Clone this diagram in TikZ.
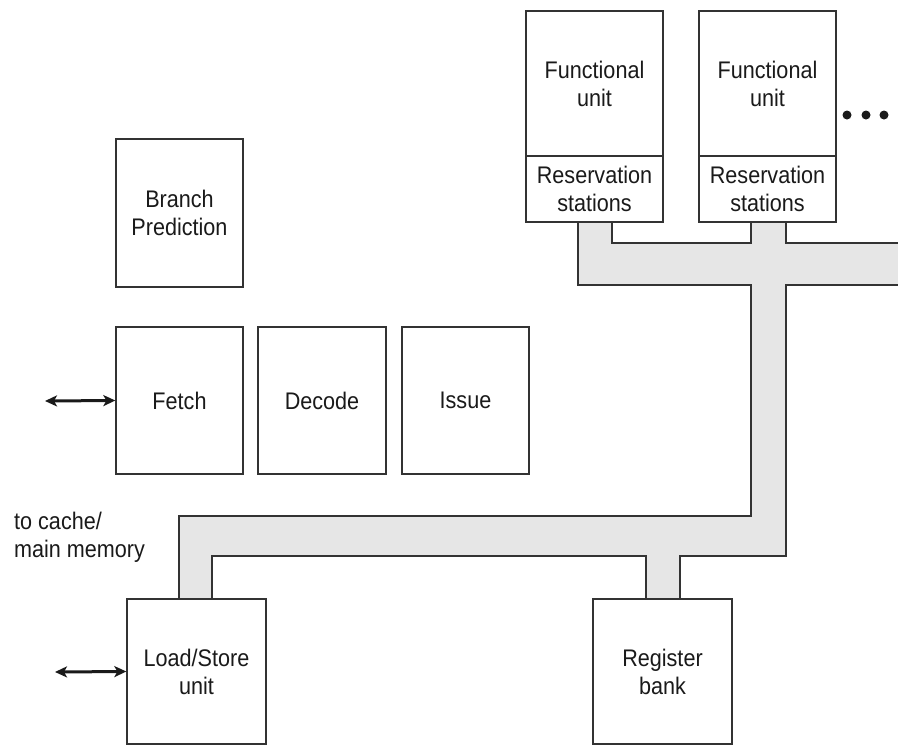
\documentclass[tikz,border=0pt]{standalone}
\usepackage{fontspec}
\setmainfont{Liberation Sans}[FakeStretch=0.9]
\usetikzlibrary{arrows.meta}
\definecolor{ink}{HTML}{333333}
\definecolor{textink}{HTML}{1A1A1A}
\definecolor{busgray}{HTML}{E6E6E6}
\begin{document}
\begin{tikzpicture}[x=1pt,y=-1pt,
  unitbox/.style={draw=ink, line width=1.3pt, fill=white, inner sep=0pt,
    align=center, font=\fontsize{24}{28}\selectfont, text=textink},
  stagebox/.style={unitbox, minimum width=127pt, minimum height=147pt},
  fubox/.style={unitbox, minimum width=137pt, minimum height=145pt},
  rsbox/.style={unitbox, minimum width=137pt, minimum height=66pt},
  endbox/.style={unitbox, minimum width=139pt, minimum height=145pt},
  busline/.style={draw=ink, line width=1.3pt, line join=miter},
  memlink/.style={{Stealth[length=12pt,width=11pt,inset=3pt]}-{Stealth[length=12pt,width=11pt,inset=3pt]},
    line width=3pt, draw=textink},
  label/.style={font=\fontsize{24}{28}\selectfont, text=textink, align=left, inner sep=0pt}
]
\useasboundingbox (0,0) rectangle (898,745);

% common data bus
\fill[busgray] (898,243) -- (786,243) -- (786,222) -- (751,222) -- (751,243)
  -- (612,243) -- (612,222) -- (578,222) -- (578,285) -- (751,285)
  -- (751,516) -- (179,516) -- (179,599) -- (212,599) -- (212,556)
  -- (646,556) -- (646,599) -- (680,599) -- (680,556) -- (786,556)
  -- (786,285) -- (898,285) -- cycle;
\draw[busline] (898,243) -- (786,243) -- (786,222)
  (751,222) -- (751,243) -- (612,243) -- (612,222)
  (578,222) -- (578,285) -- (751,285) -- (751,516) -- (179,516) -- (179,599)
  (212,599) -- (212,556) -- (646,556) -- (646,599)
  (680,599) -- (680,556) -- (786,556) -- (786,285) -- (898,285);

% front end
\node[unitbox, minimum width=127pt, minimum height=148pt] (bp) at (179.5,213) {Branch\\Prediction};
\node[stagebox] (fetch) at (179.5,400.5) {Fetch};
\node[stagebox, minimum width=128pt] (decode) at (322,400.5) {Decode};
\node[stagebox] (issue) at (465.5,400.5) {Issue};

% functional units with their reservation stations
\node[fubox] (fu1) at (594.5,83.5) {Functional\\unit};
\node[rsbox] (rs1) at (594.5,189) {Reservation\\stations};
\node[fubox] (fu2) at (767.5,83.5) {Functional\\unit};
\node[rsbox] (rs2) at (767.5,189) {Reservation\\stations};
\foreach \dx in {847,866,884} \fill[textink] (\dx,115) circle (4.5pt);

% load/store and registers
\node[endbox] (ls) at (196.5,671.5) {Load/Store\\unit};
\node[endbox] (rb) at (662.5,671.5) {Register\\bank};

% memory links
\node[label, anchor=west] (memlabel) at (14,537) {to cache/\\main memory};
\coordinate (memF) at (45,401);
\coordinate (memLS) at (55,672);
\draw[memlink] (memF) -- (fetch.west);
\draw[memlink] (memLS) -- (ls.west);
\end{tikzpicture}
\end{document}
